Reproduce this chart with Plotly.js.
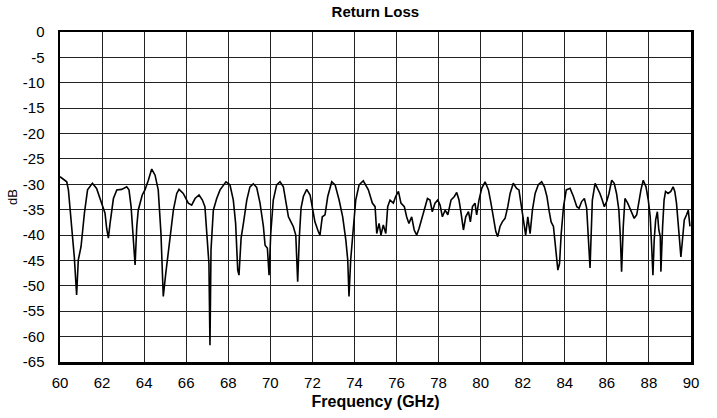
<!DOCTYPE html>
<html>
<head>
<meta charset="utf-8">
<script src="https://cdn.plot.ly/plotly-3.0.1.min.js"></script>
<style>html,body{margin:0;padding:0;background:#fff;}#chart{width:717px;height:418px;}</style>
</head>
<body>
<div id="chart"></div>
<script>
const chartTitle = "Return Loss";
const xTitle = "Frequency (GHz)";
const yTitle = "dB";
const xTickVals = [60,62,64,66,68,70,72,74,76,78,80,82,84,86,88,90];
const yTickVals = [0,-5,-10,-15,-20,-25,-30,-35,-40,-45,-50,-55,-60,-65];

const freq = [
60.00,60.32,60.40,60.55,60.68,60.79,60.87,61.00,61.16,61.31,61.54,61.74,61.98,62.14,62.22,62.30,62.38,62.54,62.70,62.93,63.17,63.28,63.38,63.49,63.57,63.65,63.72,63.91,64.04,64.20,64.36,64.52,64.67,64.80,64.91,65.03,65.12,65.23,65.39,65.55,65.66,65.86,66.10,66.26,66.42,66.61,66.77,66.89,67.02,67.08,67.13,67.18,67.29,67.45,
67.61,67.89,68.08,68.24,68.35,68.45,68.51,68.61,68.72,68.88,69.03,69.19,69.35,69.51,69.67,69.75,69.86,69.94,70.02,70.14,70.30,70.46,70.62,70.73,70.86,70.98,71.09,71.21,71.30,71.38,71.46,71.57,71.73,71.89,72.00,72.12,72.28,72.36,72.47,72.60,72.73,72.92,73.08,73.27,73.44,73.59,73.68,73.74,73.82,73.95,74.06,74.22,74.42,74.66,74.85,74.98,
75.06,75.17,75.26,75.37,75.49,75.58,75.69,75.85,75.96,76.09,76.21,76.37,76.48,76.59,76.72,76.84,76.96,77.07,77.20,77.36,77.47,77.59,77.70,77.83,77.96,78.07,78.18,78.31,78.44,78.59,78.75,78.86,78.97,79.07,79.18,79.29,79.42,79.51,79.61,79.73,79.81,79.92,80.05,80.21,80.37,80.49,80.60,80.72,80.81,80.92,81.03,81.16,81.29,81.40,81.55,81.71,81.82,81.95,82.06,82.14,82.24,82.35,82.46,
82.59,82.74,82.90,83.03,83.15,83.26,83.35,83.46,83.55,83.62,83.67,83.75,83.83,83.94,84.07,84.25,84.41,84.57,84.68,84.80,84.93,85.04,85.12,85.20,85.25,85.31,85.44,85.56,85.67,85.78,85.88,85.99,86.10,86.23,86.35,86.46,86.57,86.64,86.70,86.78,86.86,86.99,87.10,87.21,87.30,87.42,87.53,87.62,87.73,87.86,87.97,88.06,88.13,88.19,88.25,88.32,88.40,88.47,88.54,88.57,88.65,88.72,88.79,88.91,89.04,89.15,89.23,89.31,89.39,89.47,89.52,89.58,89.68,89.79,89.87,89.95
];
const returnLoss = [
-28.5,-29.5,-31.1,-37.6,-44.3,-51.8,-44.9,-42.3,-35.7,-31.1,-29.8,-30.8,-33.7,-35.7,-38.7,-40.6,-37.7,-32.8,-31.1,-31.0,-30.5,-31.1,-34.4,-40.3,-45.9,-38.3,-35.1,-32.1,-31.1,-29.2,-27.0,-28.2,-31.1,-39.7,-52.1,-47.5,-44.3,-40.3,-35.1,-31.8,-31.0,-31.8,-33.7,-34.1,-32.8,-32.1,-33.1,-34.4,-41.0,-45.6,-61.7,-42.9,-35.1,-32.8,
-31.1,-29.5,-30.1,-33.1,-37.7,-46.9,-47.9,-40.6,-37.7,-33.1,-30.5,-29.9,-30.6,-33.7,-38.3,-42.0,-42.6,-47.9,-39.7,-33.1,-30.1,-29.5,-30.5,-33.1,-36.4,-37.4,-38.3,-40.0,-49.2,-40.3,-34.7,-32.4,-31.0,-32.1,-34.7,-37.4,-39.3,-40.0,-36.4,-36.0,-32.4,-29.5,-30.1,-33.1,-36.4,-41.0,-44.9,-52.1,-44.9,-38.3,-33.1,-30.1,-29.3,-31.1,-33.7,-34.4,
-39.7,-37.7,-40.0,-38.0,-39.7,-34.4,-33.1,-33.7,-32.4,-31.4,-33.7,-34.4,-36.4,-37.7,-36.4,-39.0,-40.0,-38.7,-36.7,-34.4,-32.8,-33.1,-35.4,-33.7,-33.1,-34.1,-36.4,-35.1,-36.0,-33.1,-32.4,-31.6,-33.1,-35.7,-39.0,-36.4,-35.4,-37.4,-34.4,-33.7,-36.0,-33.1,-30.8,-29.5,-31.1,-33.7,-36.4,-39.3,-40.3,-38.3,-37.4,-36.7,-34.4,-31.8,-29.8,-30.8,-31.1,-35.1,-38.3,-40.0,-36.4,-39.7,-35.1,
-31.8,-30.1,-29.5,-30.5,-32.4,-35.4,-37.4,-38.3,-41.6,-44.3,-46.9,-45.6,-39.7,-34.4,-31.1,-30.8,-32.4,-34.4,-34.7,-33.4,-32.8,-34.7,-40.3,-46.5,-40.3,-33.1,-29.8,-30.8,-31.8,-33.1,-34.4,-33.4,-31.8,-29.2,-29.8,-31.8,-35.1,-40.3,-47.2,-38.3,-32.8,-33.7,-34.7,-35.7,-36.7,-36.0,-33.1,-31.1,-29.2,-30.5,-33.1,-36.4,-42.3,-47.9,-41.0,-37.0,-35.4,-39.0,-40.3,-47.2,-38.3,-33.1,-31.4,-31.8,-31.4,-30.5,-31.4,-33.7,-37.7,-41.0,-44.3,-41.6,-37.0,-36.0,-35.1,-38.3
];

const fontFam = '"Liberation Sans", Arial, Helvetica, sans-serif';

const data = [{
  x: freq, y: returnLoss, type: 'scatter', mode: 'lines',
  line: {color: '#000', width: 1.6}, hoverinfo: 'skip', showlegend: false
}];

const layout = {
  width: 717, height: 418,
  margin: {l: 60, r: 26, t: 32, b: 56},
  paper_bgcolor: '#fff', plot_bgcolor: '#fff',
  font: {family: fontFam, color: '#000', size: 15},
  title: {text: '<b>' + chartTitle + '</b>', font: {size: 15, family: fontFam, color: '#000'},
          x: 0.5235, xanchor: 'center', y: 0.972, yanchor: 'middle', yref: 'container'},
  xaxis: {
    range: [60, 90], tickvals: xTickVals, ticktext: xTickVals.map(String),
    showgrid: true, gridcolor: '#222', gridwidth: 1,
    showline: true, linecolor: '#000', linewidth: 2.5, mirror: true,
    ticks: 'outside', ticklen: 5, tickcolor: 'rgba(0,0,0,0)',
    tickfont: {size: 15, family: fontFam, color: '#000'},
    zeroline: false, fixedrange: true,
    title: {text: '<b>' + xTitle + '</b>', font: {size: 16, family: fontFam, color: '#000'}, standoff: 7}
  },
  yaxis: {
    range: [-65, 0], tickvals: yTickVals, ticktext: yTickVals.map(String),
    showgrid: true, gridcolor: '#222', gridwidth: 1,
    showline: true, linecolor: '#000', linewidth: 2.5, mirror: true,
    ticks: 'outside', ticklen: 10, tickcolor: 'rgba(0,0,0,0)',
    tickfont: {size: 15, family: fontFam, color: '#000'},
    zeroline: false, fixedrange: true
  },
  annotations: [{
    text: yTitle, xref: 'paper', yref: 'paper', x: -0.076, y: 0.5,
    xanchor: 'center', yanchor: 'middle', textangle: -90, showarrow: false,
    font: {size: 13, family: fontFam, color: '#000'}
  }]
};

Plotly.newPlot('chart', data, layout, {staticPlot: true, displayModeBar: false});
</script>
</body>
</html>
